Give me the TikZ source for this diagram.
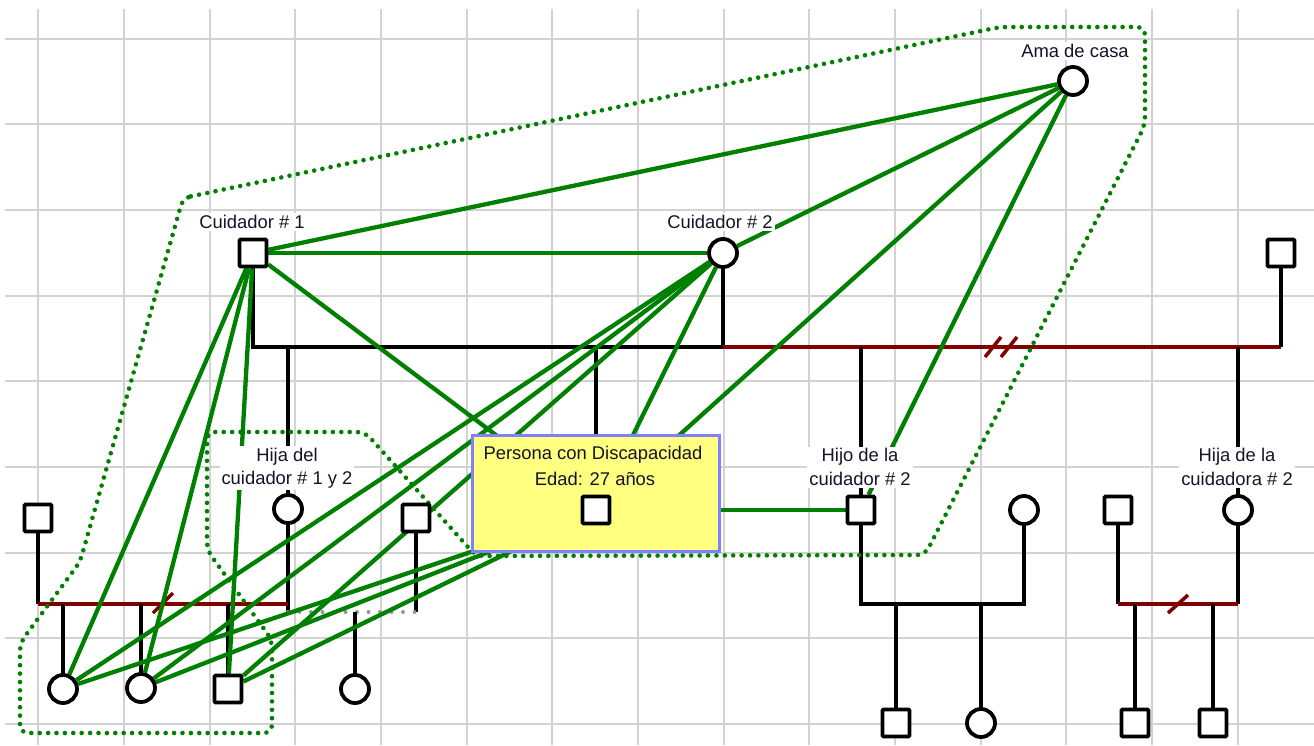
\documentclass[tikz,border=0pt]{standalone}
\usepackage{fontspec}
\setmainfont{Liberation Sans}
\pgfdeclarelayer{gridlayer}
\pgfdeclarelayer{links}
\pgfsetlayers{gridlayer,links,main}

\definecolor{relgreen}{RGB}{0,128,0}
\definecolor{divred}{RGB}{128,0,0}
\definecolor{gridgray}{RGB}{210,210,210}
\definecolor{boxyellow}{RGB}{255,255,128}
\definecolor{boxblue}{RGB}{128,128,255}
\definecolor{labeltext}{RGB}{20,20,40}
\definecolor{liaisongray}{RGB}{150,150,150}

\begin{document}
\begin{tikzpicture}[x=1pt,y=-1pt,
  male/.style={draw=black, line width=3.8pt, fill=white, rectangle, minimum size=27pt, inner sep=0pt, rounded corners=1pt},
  female/.style={draw=black, line width=3.8pt, fill=white, circle, minimum size=28pt, inner sep=0pt},
  lbl/.style={fill=white, inner sep=2pt, align=center, text=labeltext, font=\fontsize{18.4}{23.5}\selectfont},
  boxtext/.style={inner sep=0pt, text=labeltext, font=\fontsize{18.4}{23.5}\selectfont},
  rel/.style={draw=relgreen, line width=4.3pt},
  kin/.style={draw=black, line width=3.6pt},
  divorce/.style={draw=divred, line width=4pt},
  slash/.style={draw=divred, line width=3.5pt},
  liaison/.style={draw=liaisongray, line width=4pt, line cap=round, dash pattern=on 0pt off 11.5pt},
  cluster/.style={draw=relgreen, line width=4.6pt, line cap=round, dash pattern=on 0pt off 8.4pt, rounded corners=8pt},
]
\useasboundingbox (0,0) rectangle (1314,745);

% background grid
\begin{pgfonlayer}{gridlayer}
  \fill[white] (0,0) rectangle (1314,745);
  \foreach \i in {0,...,14}
    \draw[gridgray, line width=2pt] ({38.3+85.67*\i},9) -- ({38.3+85.67*\i},745);
  \foreach \j in {0,...,8}
    \draw[gridgray, line width=2pt] (5,{38.7+85.67*\j}) -- (1314,{38.7+85.67*\j});
\end{pgfonlayer}

% individuals
\node[female] (ama) at (1073,81) {};
\node[male]   (c1) at (253,253) {};
\node[female] (c2) at (723,253) {};
\node[male]   (ex2) at (1281,253) {};
\node[female] (hija) at (288,509) {};
\node[male]   (hijo) at (861,510) {};
\node[female] (hijoW) at (1024,510) {};
\node[male]   (hijaH) at (1118,510) {};
\node[female] (hija2) at (1238,510) {};
\node[male]   (exH) at (38,518) {};
\node[male]   (partner) at (416,518) {};
\node[female] (g1) at (63,689) {};
\node[female] (g2) at (141,688) {};
\node[male]   (g3) at (228,689) {};
\node[female] (g4) at (355,689) {};
\node[male]   (gh1) at (896,723) {};
\node[female] (gh2) at (981,723) {};
\node[male]   (gs1) at (1135,723) {};
\node[male]   (gs2) at (1213,723) {};

% index person box
\node[draw=boxblue, fill=boxyellow, line width=3pt, minimum width=247pt, minimum height=116pt, inner sep=0pt] (box) at (595.5,493) {};
\node[male] (per) at (596,510) {};
\node[boxtext] (pertxt) at (593,455) {Persona con Discapacidad};
\node[boxtext] (agetxt) at (595,479) {Edad: 27 años};

% labels
\node[lbl] (lc1) at (252,222) {Cuidador \# 1};
\node[lbl] (lc2) at (720,222) {Cuidador \# 2};
\node[lbl] (lama) at (1075,51) {Ama de casa};
\node[lbl] (lhija) at (287,468) {Hija del\\cuidador \# 1 y 2};
\node[lbl] (lhijo) at (860,467) {Hijo de la\\cuidador \# 2};
\node[lbl] (lhija2) at (1237,467) {Hija de la\\cuidadora \# 2};

% junction points of the family lines
\coordinate (u1) at (253,347);
\coordinate (u1r) at (723,347);
\coordinate (u2) at (1281,347);
\coordinate (u3l) at (861,604);
\coordinate (u3r) at (1024,604);
\coordinate (u4l) at (1118,604);
\coordinate (u4r) at (1238,604);
\coordinate (u5l) at (38,604);
\coordinate (u5r) at (288,604);
\coordinate (u6l) at (288,612);
\coordinate (u6r) at (416,612);

\begin{pgfonlayer}{links}
  % family lines
  \draw[kin] (c1.center) -- (u1) -- (u1r) -- (c2.center);
  \draw[kin] (hija.center) -- (hija.center |- u1);
  \draw[kin] (per.center) -- (per.center |- u1);
  \draw[divorce] (u1r) -- (u2);
  \draw[kin] (u2) -- (ex2.center);
  \draw[kin] (hijo.center) -- (hijo.center |- u1);
  \draw[kin] (hija2.center) -- (hija2.center |- u1);
  \draw[slash] (985,357) -- (1001,337);
  \draw[slash] (1001,357) -- (1017,337);

  \draw[kin] (hijo.center) -- (u3l) -- (u3r) -- (hijoW.center);
  \draw[kin] (gh1.center) -- (gh1.center |- u3l);
  \draw[kin] (gh2.center) -- (gh2.center |- u3l);

  \draw[kin] (hijaH.center) -- (u4l);
  \draw[kin] (hija2.center) -- (u4r);
  \draw[divorce] (u4l) -- (u4r);
  \draw[kin] (gs1.center) -- (gs1.center |- u4l);
  \draw[kin] (gs2.center) -- (gs2.center |- u4l);
  \draw[slash] (1168,613) -- (1188,595);

  \draw[kin] (exH.center) -- (u5l);
  \draw[kin] (hija.center) -- (u6l);
  \draw[divorce] (u5l) -- (u5r);
  \draw[kin] (g1.center) -- (g1.center |- u5l);
  \draw[kin] (g2.center) -- (g2.center |- u5l);
  \draw[kin] (g3.center) -- (g3.center |- u5l);
  \draw[slash] (153,613) -- (173,593);
  \draw[kin] (partner.center) -- (u6r);
  \draw[liaison] (u6l) -- (u6r);
  \draw[kin] (g4.center) -- (g4.center |- u6l);

  % emotional relationships
  \draw[rel] (ama) -- (c1);
  \draw[rel] (ama) -- (c2);
  \draw[rel] (ama) -- (per);
  \draw[rel] (ama) -- (hijo);
  \draw[rel] (c1) -- (c2);
  \draw[rel] (c1) -- (per);
  \draw[rel] (c1) -- (g1);
  \draw[rel] (c1) -- (g2);
  \draw[rel] (c1) -- (g3);
  \draw[rel] (c2) -- (per);
  \draw[rel] (c2) -- (g1);
  \draw[rel] (c2) -- (g2);
  \draw[rel] (c2) -- (g3);
  \draw[rel] (per) -- (g1);
  \draw[rel] (per) -- (g2);
  \draw[rel] (per) -- (g3);
  \draw[rel] (per) -- (hijo);

  % relationship cluster outline
  \draw[cluster] (183,198) -- (1000,27) -- (1145,27) -- (1145,125) -- (925,555)
    -- (476,556) -- (365,432) -- (207,432) -- (207,550) -- (272,640)
    -- (272,733) -- (20,733) -- (20,643) -- (80,562) -- cycle;
\end{pgfonlayer}
\end{tikzpicture}
\end{document}
